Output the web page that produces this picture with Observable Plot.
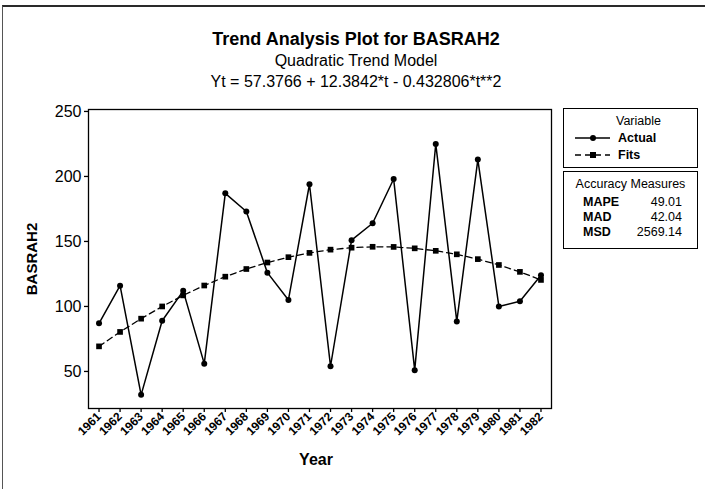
<!DOCTYPE html>
<html>
<head>
<meta charset="utf-8">
<script src="https://cdn.jsdelivr.net/npm/d3@7"></script>
<script src="https://cdn.jsdelivr.net/npm/@observablehq/plot@0.6"></script>
<style>
  html, body { margin: 0; padding: 0; background: #fff; }
  #wrap { position: relative; width: 705px; height: 489px; overflow: hidden; font-family: "Liberation Sans", Arial, sans-serif; color: #000; }
  #border { position: absolute; left: 2px; top: 5px; right: 0; bottom: 0; border-top: 2px solid #2a2a2a; border-left: 1px solid #555; }
  .t { position: absolute; white-space: nowrap; line-height: 1; }
  .box { position: absolute; border: 1px solid #000; background: #fff; font-size: 12.5px; }
</style>
</head>
<body>
<div id="wrap">
  <div id="border"></div>
  <div id="chart" style="position:absolute;left:0;top:0;"></div>
  <div class="t" style="left:0;width:712px;text-align:center;top:30px;font-size:18px;font-weight:bold;">Trend Analysis Plot for BASRAH2</div>
  <div class="t" style="left:0;width:712px;text-align:center;top:53px;font-size:16px;">Quadratic Trend Model</div>
  <div class="t" style="left:0;width:712px;text-align:center;top:74px;font-size:16px;">Yt = 57.3766 + 12.3842*t - 0.432806*t**2</div>
  <div class="t" style="left:31px;top:259px;font-size:15px;font-weight:bold;transform:translate(-50%,-50%) rotate(-90deg);">BASRAH2</div>
  <div class="t" style="left:316px;top:452px;font-size:16px;font-weight:bold;transform:translateX(-50%);">Year</div>

  <div class="box" style="left:563px;top:108px;width:133px;height:58px;">
    <div class="t" style="left:52px;top:6px;">Variable</div>
    <svg style="position:absolute;left:0;top:0;" width="133" height="58">
      <line x1="11" x2="46" y1="29" y2="29" stroke="#000" stroke-width="1.3"/>
      <circle cx="29" cy="29" r="3" fill="#000"/>
      <line x1="11" x2="46" y1="46" y2="46" stroke="#000" stroke-width="1.3" stroke-dasharray="6,4"/>
      <rect x="26" y="43" width="6" height="6" fill="#000"/>
    </svg>
    <div class="t" style="left:54px;top:23px;font-weight:bold;">Actual</div>
    <div class="t" style="left:54px;top:40px;font-weight:bold;">Fits</div>
  </div>

  <div class="box" style="left:563px;top:171px;width:133px;height:76px;">
    <div class="t" style="left:0;width:133px;text-align:center;top:6px;">Accuracy Measures</div>
    <div class="t" style="left:19px;top:24px;font-weight:bold;">MAPE</div>
    <div class="t" style="left:19px;top:39px;font-weight:bold;">MAD</div>
    <div class="t" style="left:19px;top:54px;font-weight:bold;">MSD</div>
    <div class="t" style="right:15px;top:24px;text-align:right;">49.01</div>
    <div class="t" style="right:15px;top:39px;text-align:right;">42.04</div>
    <div class="t" style="right:15px;top:54px;text-align:right;">2569.14</div>
  </div>
</div>
<script>
const years = [1961,1962,1963,1964,1965,1966,1967,1968,1969,1970,1971,1972,1973,1974,1975,1976,1977,1978,1979,1980,1981,1982];
const actual = [87, 116, 32, 89, 112, 56, 187, 173, 126, 105, 194, 54, 151, 164, 198, 51, 225, 88.5, 213, 100, 104, 124];
const fits = [69.3, 80.4, 90.6, 100.0, 108.5, 116.1, 122.9, 128.8, 133.8, 137.9, 141.2, 143.7, 145.2, 145.9, 145.8, 144.7, 142.8, 140.1, 136.4, 131.9, 126.6, 120.4];
const yTicks = [50, 100, 150, 200, 250];

const data = years.map((year, i) => ({year, actual: actual[i], fit: fits[i]}));

const chart = Plot.plot({
  width: 705,
  height: 489,
  marginLeft: 88,
  marginRight: 154,
  marginTop: 109,
  marginBottom: 81,
  style: {fontFamily: "'Liberation Sans', Arial, sans-serif", fontSize: "13px", color: "#000", background: "transparent", overflow: "visible"},
  x: {type: "linear", domain: [1960.5, 1982.5]},
  y: {domain: [21.5, 251.5]},
  marks: [
    Plot.frame({stroke: "#000", strokeWidth: 1.3}),
    Plot.axisX({ticks: years, tickFormat: d => String(d), tickRotate: -45, tickSize: 4, tickPadding: 2, fontSize: 12, fontWeight: "bold", label: null, strokeWidth: 1.3}),
    Plot.axisY({ticks: yTicks, tickSize: 4, tickPadding: 3, fontSize: 16, label: null, strokeWidth: 1.3}),
    Plot.line(data, {x: "year", y: "fit", stroke: "#000", strokeWidth: 1.3, strokeDasharray: "6,4"}),
    Plot.dot(data, {x: "year", y: "fit", symbol: "square", fill: "#000", stroke: null, r: 3.2}),
    Plot.line(data, {x: "year", y: "actual", stroke: "#000", strokeWidth: 1.5}),
    Plot.dot(data, {x: "year", y: "actual", fill: "#000", stroke: null, r: 3})
  ]
});
document.getElementById("chart").appendChild(chart);
</script>
</body>
</html>
